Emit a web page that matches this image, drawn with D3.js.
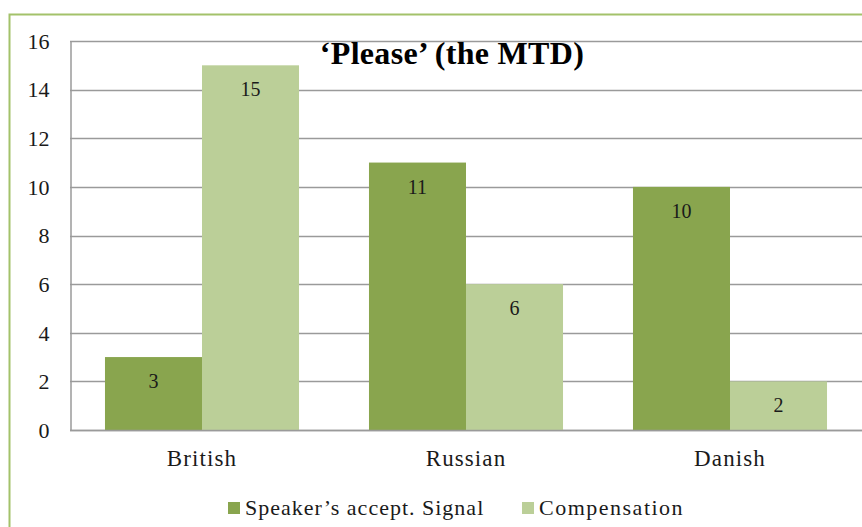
<!DOCTYPE html>
<html>
<head>
<meta charset="utf-8">
<script src="https://cdn.jsdelivr.net/npm/d3@7"></script>
<style>
  html, body { margin: 0; padding: 0; background: #fff; }
  svg { display: block; }
  #chart text { font-family: "Liberation Serif" !important; }
</style>
</head>
<body>
<svg id="chart" width="862" height="527" font-family="Liberation Serif"></svg>
<script>
const categories = ["British", "Russian", "Danish"];
const seriesNames = ["Speaker\u2019s accept. Signal", "Compensation"];
const acceptSignal = [3, 11, 10];
const compensation = [15, 6, 2];
const yTicks = [0, 2, 4, 6, 8, 10, 12, 14, 16];
const chartTitle = "\u2018Please\u2019 (the MTD)";

const colors = ["#89a54e", "#bbcf98"];
const seriesValues = [acceptSignal, compensation];
const ink = "#1a1a1a";

const svg = d3.select("#chart");
const W = 862, H = 527;
const plot = { left: 70, right: 862, top: 41, bottom: 430 };

// outer frame
svg.append("path")
  .attr("d", `M${W + 2},14.5 H9.5 V${H + 2}`)
  .attr("fill", "none")
  .attr("stroke", "#a3c26a")
  .attr("stroke-width", 2);

const x0 = d3.scaleBand().domain(categories).range([plot.left, plot.right]).paddingInner(0.265).paddingOuter(0.1325);
const x1 = d3.scaleBand().domain(seriesNames).range([0, x0.bandwidth()]);
const y = d3.scaleLinear().domain([0, 16]).range([plot.bottom, plot.top]);

// gridlines
svg.append("g")
  .selectAll("line")
  .data(yTicks)
  .join("line")
  .attr("x1", plot.left).attr("x2", plot.right)
  .attr("y1", d => Math.round(y(d)) + 0.5).attr("y2", d => Math.round(y(d)) + 0.5)
  .attr("stroke", "#9a9a9a").attr("stroke-width", 1.5);

// y axis
const yAxis = svg.append("g")
  .attr("transform", `translate(${plot.left + 0.5},0)`)
  .call(d3.axisLeft(y).tickValues(yTicks).tickSize(0).tickPadding(21));
yAxis.attr("font-family", null).attr("font-size", null);
yAxis.select(".domain").attr("stroke", "#9a9a9a").attr("stroke-width", 1.5);
yAxis.selectAll("text")
  .attr("font-size", 22).attr("dy", "0.33em")
  .attr("fill", ink);

// bars
const groups = svg.append("g")
  .selectAll("g")
  .data(categories)
  .join("g")
  .attr("transform", d => `translate(${x0(d)},0)`);

const cells = (c, i) => seriesNames.map((s, j) => ({ s, j, v: seriesValues[j][i] }));

groups.selectAll("rect")
  .data(cells)
  .join("rect")
  .attr("x", d => x1(d.s))
  .attr("width", x1.bandwidth())
  .attr("y", d => y(d.v))
  .attr("height", d => y(0) - y(d.v))
  .attr("fill", d => colors[d.j]);

groups.selectAll("text.val")
  .data(cells)
  .join("text")
  .attr("class", "val")
  .attr("x", d => x1(d.s) + x1.bandwidth() / 2)
  .attr("y", d => y(d.v) + 31)
  .attr("text-anchor", "middle")
  .attr("font-size", 20)
  .attr("fill", ink)
  .text(d => d.v);

// x axis baseline and labels
svg.append("line")
  .attr("x1", plot.left).attr("x2", plot.right)
  .attr("y1", plot.bottom + 0.5).attr("y2", plot.bottom + 0.5)
  .attr("stroke", "#9a9a9a").attr("stroke-width", 1.5);

svg.append("g")
  .selectAll("text")
  .data(categories)
  .join("text")
  .attr("x", d => x0(d) + x0.bandwidth() / 2)
  .attr("y", 466)
  .attr("text-anchor", "middle")
  .attr("font-size", 23)
  .attr("letter-spacing", 1.1)
  .attr("fill", ink)
  .text(d => d);

// title
svg.append("text")
  .attr("x", 452)
  .attr("y", 64)
  .attr("text-anchor", "middle")
  .attr("font-size", 32)
  .attr("font-weight", "bold")
  .attr("letter-spacing", 0.3)
  .attr("fill", "#000")
  .text(chartTitle);

// legend
const legendItems = [
  { name: seriesNames[0], color: colors[0], x: 228, spacing: 1.0 },
  { name: seriesNames[1], color: colors[1], x: 522, spacing: 1.5 }
];
const legend = svg.append("g");
legendItems.forEach(it => {
  legend.append("rect")
    .attr("x", it.x).attr("y", 502).attr("width", 12).attr("height", 12)
    .attr("fill", it.color);
  legend.append("text")
    .attr("x", it.x + 17).attr("y", 515)
    .attr("font-size", 22)
    .attr("letter-spacing", it.spacing)
    .attr("fill", ink)
    .text(it.name);
});
</script>
</body>
</html>
